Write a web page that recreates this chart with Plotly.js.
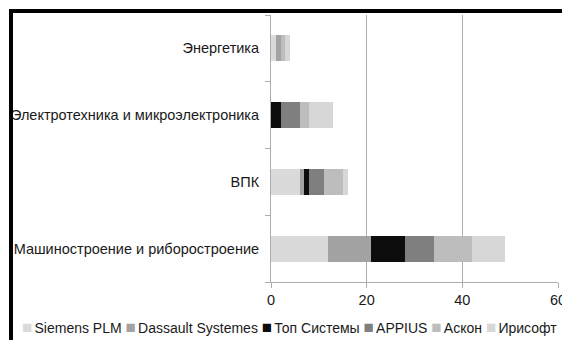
<!DOCTYPE html>
<html>
<head>
<meta charset="utf-8">
<script src="https://cdn.plot.ly/plotly-3.0.1.min.js"></script>
<style>
  html, body { margin: 0; padding: 0; background: #fff; }
  #wrap { position: relative; width: 562px; height: 340px; overflow: hidden; }
  #chart { position: absolute; left: 0; top: 0; width: 562px; height: 340px; }
  #frame { position: absolute; left: 9px; top: 9px; width: 600px; height: 400px;
           border-left: 4px solid #000; border-top: 4px solid #000; pointer-events: none; }
</style>
</head>
<body>
<div id="wrap">
  <div id="chart"></div>
  <div id="frame"></div>
</div>
<script>
// ---- data ----
const categories = [
  'Машиностроение и риборостроение',
  'ВПК',
  'Электротехника и микроэлектроника',
  'Энергетика'
];
const seriesNames = ['Siemens PLM', 'Dassault Systemes', 'Топ Системы', 'APPIUS', 'Аскон', 'Ирисофт'];
const siemensPLM       = [12, 6, 0, 1];
const dassaultSystemes = [9, 1, 0, 1];
const topSistemy       = [7, 1, 2, 0];
const appius           = [6, 3, 4, 0];
const askon            = [8, 4, 2, 1];
const irisoft          = [7, 1, 5, 1];
const xTickValues = [0, 20, 40, 60];

// ---- styles ----
const seriesColors = ['#dadada', '#a3a3a3', '#0d0d0d', '#7f7f7f', '#bdbdbd', '#d7d7d7'];
const seriesValues = [siemensPLM, dassaultSystemes, topSistemy, appius, askon, irisoft];

const W = 562, H = 340;
const margin = { l: 271, r: 4, t: 15, b: 58, pad: 0 };
const plotW = W - margin.l - margin.r;
const plotH = H - margin.t - margin.b;
const font = 'Arial, "Liberation Sans", sans-serif';
const fs = 14.5;

const traces = seriesNames.map((name, i) => ({
  type: 'bar',
  orientation: 'h',
  name: name,
  x: seriesValues[i],
  y: categories,
  marker: { color: seriesColors[i], line: { width: 0 } },
  showlegend: false,
  hoverinfo: 'x+name'
}));

// custom one-line legend (as in the reference, clipped at the right edge)
const legendText = seriesNames.map((n, i) =>
  '<span style="color:' + seriesColors[i] + ';font-size:17px">■</span>' +
  '<span style="font-size:8px">&nbsp;</span>' + n
).join('&nbsp;');

const layout = {
  width: W, height: H,
  margin: margin,
  paper_bgcolor: '#ffffff',
  plot_bgcolor: '#ffffff',
  barmode: 'stack',
  bargap: 0.61,
  font: { family: font, size: fs, color: '#1a1a1a' },
  showlegend: false,
  xaxis: {
    range: [0, 60],
    tickvals: xTickValues,
    ticktext: xTickValues.map(String),
    showgrid: true,
    gridcolor: '#adadad',
    gridwidth: 1,
    zeroline: false,
    showline: true,
    linecolor: '#adadad',
    linewidth: 1,
    ticks: 'outside',
    ticklen: 5,
    tickcolor: '#adadad',
    ticklabeloverflow: 'allow',
    tickfont: { family: font, size: fs, color: '#1a1a1a' },
    fixedrange: true
  },
  yaxis: {
    type: 'category',
    categoryorder: 'array',
    categoryarray: categories,
    showgrid: false,
    zeroline: false,
    showline: true,
    linecolor: '#adadad',
    linewidth: 1,
    ticks: 'outside',
    tickson: 'boundaries',
    ticklen: 5,
    tickcolor: '#adadad',
    ticklabelstandoff: 8,
    tickfont: { family: font, size: fs, color: '#1a1a1a' },
    fixedrange: true
  },
  annotations: [{
    xref: 'paper', yref: 'paper',
    x: (20 - margin.l) / plotW,
    y: -(327 - (H - margin.b)) / plotH,
    xanchor: 'left', yanchor: 'middle',
    showarrow: false,
    text: legendText,
    font: { family: font, size: 14, color: '#1a1a1a' },
    align: 'left'
  }]
};

Plotly.newPlot('chart', traces, layout, { displayModeBar: false, staticPlot: true });
</script>
</body>
</html>
